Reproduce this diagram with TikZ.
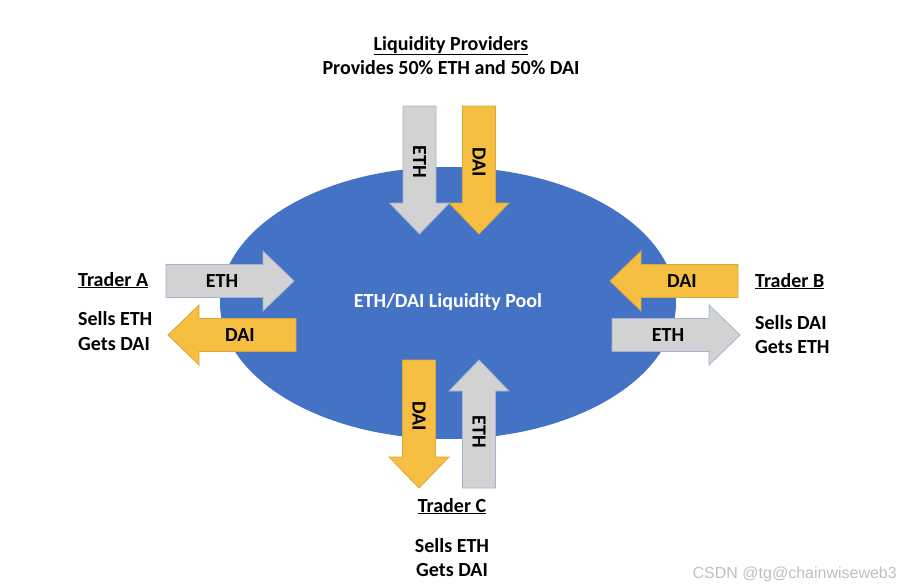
\documentclass[tikz,border=0pt]{standalone}
\usepackage{fontspec}
\setmainfont{Carlito}
\newfontfamily\marksans{Liberation Sans}
\definecolor{poolblue}{HTML}{4472C4}
\definecolor{ethgray}{HTML}{D2D2D2}
\definecolor{ethedge}{HTML}{A3B3CF}
\definecolor{daigold}{HTML}{F6BF42}
\definecolor{daiedge}{HTML}{D9A641}
\begin{document}
\begin{tikzpicture}[x=1pt, y=-1pt, font=\fontsize{20}{24}\selectfont\bfseries,
  ethbar/.style={fill=ethgray, draw=ethedge, line width=0.8pt},
  daibar/.style={fill=daigold, draw=daiedge, line width=0.8pt},
  lab/.style={inner sep=0pt, anchor=base west}]
  \useasboundingbox (0,0) rectangle (900,587);
  % ---------------- pool ----------------
  \fill[poolblue] (448,303) ellipse [x radius=228, y radius=136];
  \node[white] (pool) at (448,302) {ETH/DAI Liquidity Pool};
  % ---------------- token arrows: name/tail x/tail y/direction/style/label/text angle ----------------
  \foreach \nm/\px/\py/\ang/\kind/\tx/\rot in {
      lpeth/419.5/106/-90/ethbar/ETH/-90, lpdai/479/106/-90/daibar/DAI/-90,
      aeth/166/281/0/ethbar/ETH/0, adai/296/335/180/daibar/DAI/0,
      bdai/738/281/180/daibar/DAI/0, beth/612/335/0/ethbar/ETH/0,
      cdai/419/360/-90/daibar/DAI/-90, ceth/479/488/90/ethbar/ETH/-90}
  {
    \begin{scope}[shift={(\px,\py)}, rotate=\ang]
      \draw[\kind] (0,-16.5) -- (97,-16.5) -- (97,-30) -- (128,0)
        -- (97,30) -- (97,16.5) -- (0,16.5) -- cycle;
      \node[rotate=\rot] (\nm) at (56,0) {\tx};
    \end{scope}
  }
  % ---------------- liquidity providers ----------------
  \node[inner sep=0pt, anchor=base] (lp) at (451,50) {\underline{Liquidity Providers}};
  \node[inner sep=0pt, anchor=base] (lp-note) at (451,74) {Provides 50\% ETH and 50\% DAI};
  % ---------------- traders ----------------
  \node[lab] (tra) at (78,286) {\underline{Trader A}};
  \node[lab] (tra-sell) at (78,325) {Sells ETH};
  \node[lab] (tra-get) at (78,350) {Gets DAI};
  \node[lab] (trb) at (755,287) {\underline{Trader B}};
  \node[lab] (trb-sell) at (755,329) {Sells DAI};
  \node[lab] (trb-get) at (755,353) {Gets ETH};
  \node[inner sep=0pt, anchor=base] (trc) at (452,512) {\underline{Trader C}};
  \node[inner sep=0pt, anchor=base] (trc-sell) at (452,552) {Sells ETH};
  \node[inner sep=0pt, anchor=base] (trc-get) at (452,576) {Gets DAI};
  % watermark
  \node[font=\marksans\fontsize{16}{18}\selectfont, text=black!25, inner sep=0pt,
    anchor=base east] (mark) at (897,578) {CSDN @tg@chainwiseweb3};
\end{tikzpicture}
\end{document}
